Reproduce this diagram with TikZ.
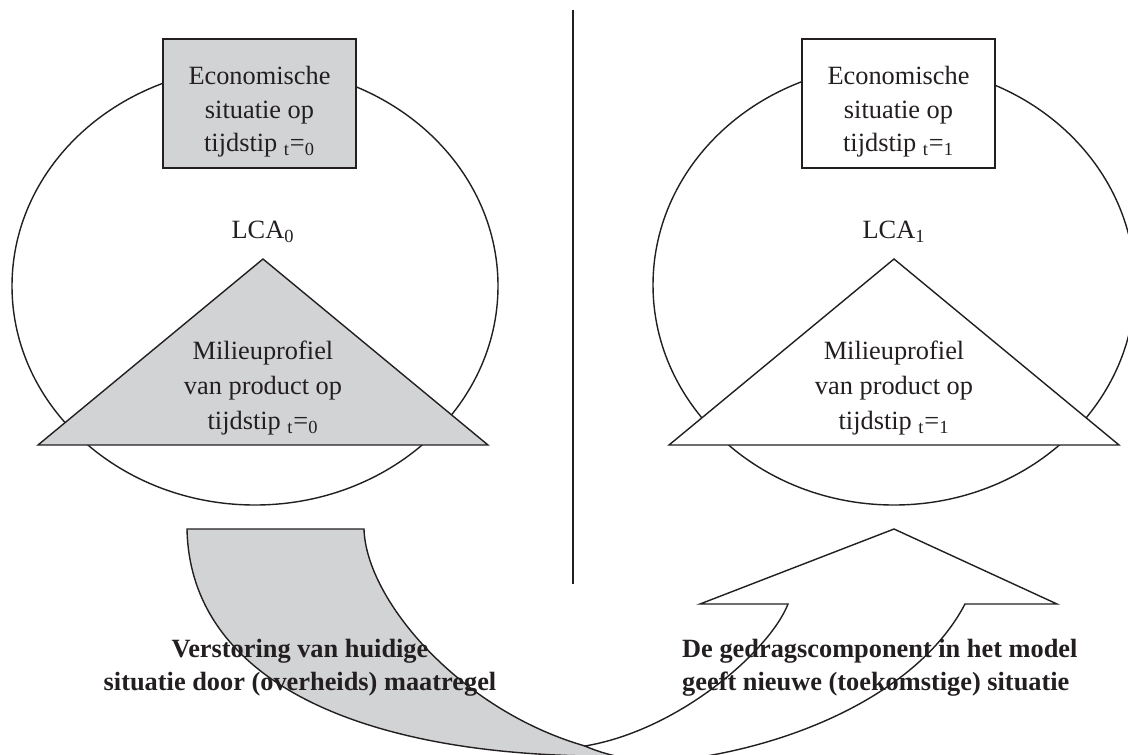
\documentclass[tikz,border=0pt]{standalone}
\usepackage{fontspec}
\setmainfont{Liberation Serif}
\usepackage{tikz}
\usetikzlibrary{positioning}

\definecolor{panelgrey}{RGB}{210,211,213}
\definecolor{inkline}{RGB}{35,31,32}

\begin{document}
\begin{tikzpicture}[x=0.02cm,y=-0.02cm]
    \tikzset{
    outline/.style={draw=inkline, line width=0.8pt},
    plaintext/.style={font=\fontsize{15}{19}\selectfont, text=inkline, align=center},
    boldtext/.style={font=\fontsize{15}{18.5}\selectfont\bfseries, text=inkline},
    situbox/.style={
        outline,
        minimum width=3.86cm,
        minimum height=2.58cm,
        inner sep=0pt
    }
    }
    \useasboundingbox (0,0) rectangle (1128,754);

    % the two circles
    \draw[outline] (255,286) ellipse [x radius=243, y radius=219];
    \draw[outline] (894,285) ellipse [x radius=241, y radius=220];

    \filldraw[outline, fill=panelgrey] (263,259) -- (488,445) -- (38,445) -- cycle;
    \filldraw[outline, fill=white] (894,259) -- (1119,445) -- (669,445) -- cycle;

    \node (econ0)[situbox, fill=panelgrey] at (259.5,103.5) {};
    \node (econ1)[situbox, fill=white] at (898.5,103.5) {};
    \node (econ0txt)[plaintext] at ([yshift=-0.17cm]econ0.center) {Economische\\situatie op\\tijdstip \textsubscript{t}=\textsubscript{0}};
    \node (econ1txt)[plaintext] at ([yshift=-0.17cm]econ1.center) {Economische\\situatie op\\ tijdstip \textsubscript{t}=\textsubscript{1}};

    \node (lca0)[plaintext] at (263,232) {LCA\textsubscript{0}};
    \node (lca1)[plaintext] at (894,232) {LCA\textsubscript{1}};

    \node (milieu0)[plaintext, font=\fontsize{15}{20}\selectfont] at (263,388) {Milieuprofiel\\van product op\\tijdstip \textsubscript{t}=\textsubscript{0}};
    \node (milieu1)[plaintext, font=\fontsize{15}{20}\selectfont] at (894,388) {Milieuprofiel\\van product op\\tijdstip \textsubscript{t}=\textsubscript{1}};

    % divider
    \coordinate (divtop) at (573,10);
    \coordinate (divbot) at (573,584);
    \draw[outline] (divtop) -- (divbot);

    % curved band: grey part, then white arrow on top
    \begin{scope}
        \clip (0,0) rectangle (1128,754);
        \filldraw[outline, fill=panelgrey] (187,529) -- (364,529)
            .. controls (366,600) and (460,710) .. (585,746)
            .. controls (620,756) and (660,768) .. (700,778)
            -- (700,800) -- (627,756)
            .. controls (360,760) and (190,680) .. (187,529) -- cycle;
        \filldraw[outline, fill=white] (585,746)
            .. controls (680,730) and (770,650) .. (788,604)
            -- (700,604) -- (894,529) -- (1057,604) -- (965,604)
            .. controls (920,690) and (800,745) .. (680,760)
            .. controls (640,764) and (605,755) .. (585,746) -- cycle;
    \end{scope}

    \node (verstoring)[boldtext, align=center] at (300,668) {Verstoring van huidige\\situatie door (overheids) maatregel};
    \node (gedrag)[boldtext, align=left, anchor=west] at (676,668) {De gedragscomponent in het model\\geeft nieuwe (toekomstige) situatie};
\end{tikzpicture}
\end{document}
